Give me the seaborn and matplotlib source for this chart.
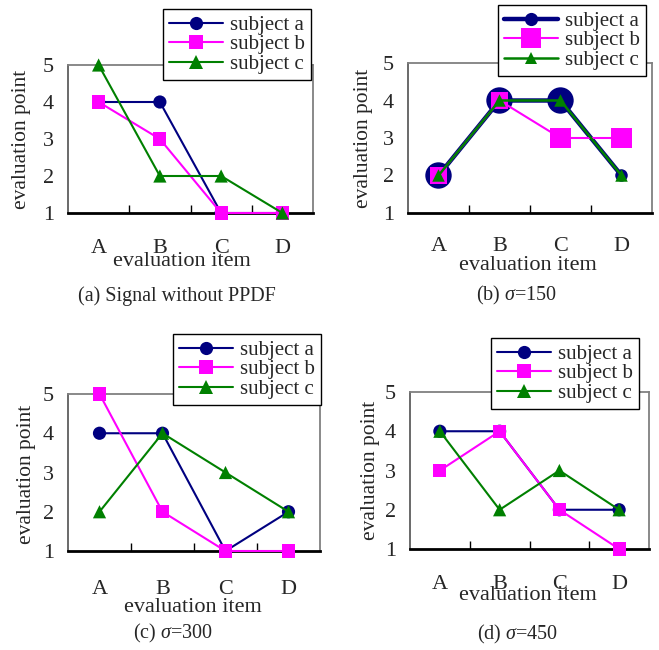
import pandas as pd
import seaborn as sns
import matplotlib.pyplot as plt
from matplotlib.lines import Line2D

# Dados (4 painéis)
items = ['A', 'B', 'C', 'D']
subjects = ['subject a', 'subject b', 'subject c']

a_sem_ppdf = [4, 4, 1, 1]
b_sem_ppdf = [4, 3, 1, 1]
c_sem_ppdf = [5, 2, 2, 1]

a_150 = [2, 4, 4, 2]
b_150 = [2, 4, 3, 3]
c_150 = [2, 4, 4, 2]

a_300 = [4, 4, 1, 2]
b_300 = [5, 2, 1, 1]
c_300 = [2, 4, 3, 2]

a_450 = [4, 4, 2, 2]
b_450 = [3, 4, 2, 1]
c_450 = [4, 2, 3, 2]

captions = ['(a) Signal without PPDF', r'(b) $\sigma$=150',
            r'(c) $\sigma$=300', r'(d) $\sigma$=450']
painel_valores = [
    [a_sem_ppdf, b_sem_ppdf, c_sem_ppdf],
    [a_150, b_150, c_150],
    [a_300, b_300, c_300],
    [a_450, b_450, c_450],
]

# Estilos
cores = {'subject a': '#000080', 'subject b': '#FF00FF', 'subject c': '#008000'}
marcadores = {'subject a': 'o', 'subject b': 's', 'subject c': '^'}
W, H = 659, 650

# tamanho dos marcadores (diâmetro em pt) e espessura da linha por painel
tam_padrao = {'subject a': [9.5] * 4, 'subject b': [9.5] * 4, 'subject c': [9.5] * 4}
tam_b = {'subject a': [19, 19, 19, 9], 'subject b': [12, 12, 14.5, 14.5],
         'subject c': [9, 9, 9, 9]}
tamanhos = [tam_padrao, tam_b, tam_padrao, tam_padrao]
lw_padrao = {'subject a': 1.5, 'subject b': 1.5, 'subject c': 1.5}
lw_b = {'subject a': 3.2, 'subject b': 1.5, 'subject c': 1.8}
larguras = [lw_padrao, lw_b, lw_padrao, lw_padrao]
leg_tam = [{'subject a': 9.5, 'subject b': 9.5, 'subject c': 9.5},
           {'subject a': 9.5, 'subject b': 14.5, 'subject c': 9},
           {'subject a': 9.5, 'subject b': 9.5, 'subject c': 9.5},
           {'subject a': 9.5, 'subject b': 9.5, 'subject c': 9.5}]

# caixas em pixels: eixos (esq, dir, topo, base), legenda (esq, topo)
eixos_px = [(68, 313, 65, 213), (408, 652, 63, 213),
            (68, 320, 394, 551), (410, 649, 392, 549)]
legenda_px = [(163, 9), (498, 5), (173, 334), (491, 338)]
ylabel_px = [(22, 139), (363, 138), (27, 474), (370, 470)]
xlabel_px = [(182, 261), (528, 265), (193, 607), (528, 596)]
tick_pad = [19, 17, 21, 19]
caption_px = [(177, 296), (517, 295), (173, 633), (518, 634)]

sns.set_theme(style='white')
plt.rcParams['font.family'] = ['Liberation Serif', 'DejaVu Serif']
plt.rcParams['mathtext.fontset'] = 'custom'
plt.rcParams['mathtext.it'] = 'Liberation Serif:italic'
plt.rcParams['mathtext.rm'] = 'Liberation Serif'

fig = plt.figure(figsize=(W / 100, H / 100), dpi=100)

for k in range(4):
    l, r, t, b = eixos_px[k]
    ax = fig.add_axes([l / W, 1 - b / H, (r - l) / W, (b - t) / H])

    df = pd.DataFrame({
        'item': items * 3,
        'subject': [s for s in subjects for _ in items],
        'point': [v for vals in painel_valores[k] for v in vals],
    })

    handles = []
    for i, s in enumerate(subjects):
        d = df[df['subject'] == s]
        sns.lineplot(data=d, x='item', y='point', color=cores[s], sort=False,
                     lw=larguras[k][s], ax=ax, zorder=3 + 2 * i, clip_on=False)
        sns.scatterplot(data=d, x='item', y='point', color=cores[s],
                        marker=marcadores[s], s=[m ** 2 for m in tamanhos[k][s]],
                        edgecolor='none', linewidth=0, ax=ax, legend=False,
                        zorder=4 + 2 * i, clip_on=False)
        handles.append(Line2D([], [], color=cores[s], lw=larguras[k][s],
                              marker=marcadores[s], markersize=leg_tam[k][s],
                              markeredgewidth=0))

    ax.set_xlim(-0.5, 3.5)
    ax.set_ylim(1, 5)
    ax.set_yticks([1, 2, 3, 4, 5])
    ax.set_xticks([0.5, 1.5, 2.5], minor=True)
    ax.tick_params(axis='x', which='major', length=0, labelsize=16, pad=tick_pad[k])
    ax.tick_params(axis='x', which='minor', length=6, width=1, direction='in',
                   color='black', bottom=True)
    ax.tick_params(axis='y', length=0, labelsize=16, pad=10)

    for lado in ['top', 'right']:
        ax.spines[lado].set_color('#808080')
        ax.spines[lado].set_linewidth(1.3)
    ax.spines['left'].set_color('#505050')
    ax.spines['left'].set_linewidth(1.2)
    ax.spines['bottom'].set_color('black')
    ax.spines['bottom'].set_linewidth(2)

    ax.set_xlabel('')
    ax.set_ylabel('')
    fig.text(ylabel_px[k][0] / W, 1 - ylabel_px[k][1] / H, 'evaluation point',
             rotation=90, ha='center', va='center', fontsize=15.5)
    fig.text(xlabel_px[k][0] / W, 1 - xlabel_px[k][1] / H, 'evaluation item',
             ha='center', va='center', fontsize=16)
    fig.text(caption_px[k][0] / W, 1 - caption_px[k][1] / H, captions[k],
             ha='center', va='center', fontsize=14.5)

    lx, ly = legenda_px[k]
    leg = ax.legend(handles, subjects, loc='upper left',
                    bbox_to_anchor=(lx / W, 1 - ly / H), bbox_transform=fig.transFigure,
                    fontsize=15, frameon=True, fancybox=False, framealpha=1,
                    edgecolor='black', handlelength=2.6, labelspacing=0.0,
                    borderpad=0.3, handletextpad=0.3, borderaxespad=0)
    leg.get_frame().set_linewidth(1)
    leg.set_zorder(20)

fig.savefig('out.png', dpi=100)
